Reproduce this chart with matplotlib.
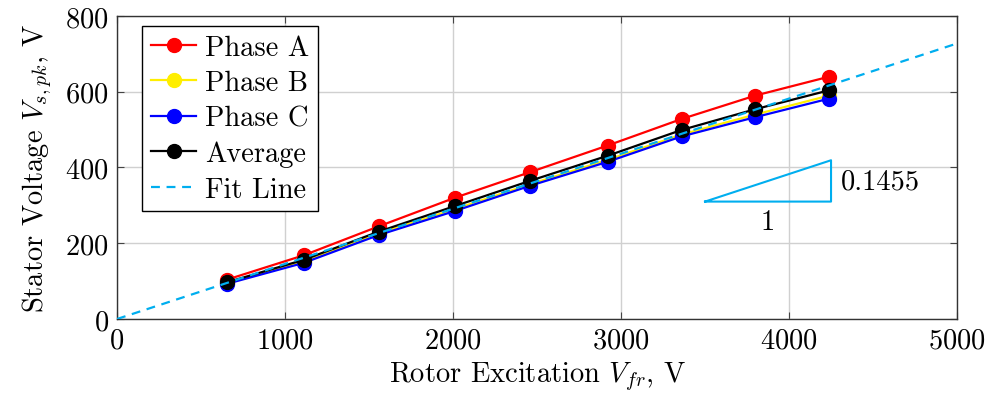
import matplotlib
matplotlib.use("Agg")
import matplotlib.pyplot as plt
import numpy as np

plt.rcParams["font.family"] = "serif"
plt.rcParams["font.serif"] = ["cmr10"]
plt.rcParams["mathtext.fontset"] = "cm"
plt.rcParams["axes.formatter.use_mathtext"] = True

# Rotor excitation voltage and measured stator peak voltages
v_rotor = [655, 1110, 1560, 2010, 2460, 2920, 3360, 3800, 4240]
phase_a = [104, 168, 245, 320, 388, 458, 528, 590, 640]
phase_b = [95, 152, 226, 290, 356, 420, 487, 540, 590]
phase_c = [93, 148, 222, 285, 352, 415, 482, 533, 582]
average = [97, 156, 231, 298, 365, 431, 499, 554, 604]

fit_slope = 0.1455
fit_x = [0, 5000]

# Slope triangle corners
tri_x0, tri_x1 = 3500, 4250
tri_y0 = 310

FS = 20.5

fig = plt.figure(figsize=(9.9, 4.02), dpi=100)
ax = fig.add_axes([0.1182, 0.204, 0.8485, 0.7537])

ms = 10
lw = 1.6
ax.plot(v_rotor, phase_a, "-o", color="red", lw=lw, ms=ms, label="Phase A", zorder=3)
ax.plot(v_rotor, phase_b, "-o", color="#ffee00", lw=lw, ms=ms, label="Phase B", zorder=3)
ax.plot(v_rotor, phase_c, "-o", color="blue", lw=lw, ms=ms, label="Phase C", zorder=3)
ax.plot(v_rotor, average, "-o", color="black", lw=lw, ms=ms, label="Average", zorder=4)
ax.plot(fit_x, [fit_slope * x for x in fit_x], "--", color="#00aeef", lw=lw,
        dashes=(4, 3), label="Fit Line", zorder=5)

tri_y1 = tri_y0 + fit_slope * (tri_x1 - tri_x0)
ax.plot([tri_x0, tri_x1, tri_x1, tri_x0], [tri_y0, tri_y0, tri_y1, tri_y0],
        color="#00aeef", lw=1.5, zorder=3)
ax.text(tri_x1 + 60, (tri_y0 + tri_y1) / 2, f"{fit_slope:.4f}", fontsize=FS,
        ha="left", va="center")
ax.text((tri_x0 + tri_x1) / 2, tri_y0 - 20, "1", fontsize=FS, ha="center", va="top")

ax.set_xlim(0, 5000)
ax.set_ylim(0, 800)
ax.set_xticks([0, 1000, 2000, 3000, 4000, 5000])
ax.set_yticks([0, 200, 400, 600, 800])
ax.grid(True, color="#d0d0d0", lw=1.0)
ax.set_axisbelow(True)
ax.tick_params(direction="in", top=True, right=True, labelsize=FS, length=5,
               color="#444444", width=0.8, pad=6)
for s in ax.spines.values():
    s.set_color("#333333")
    s.set_linewidth(1.0)

ax.set_xlabel(r"Rotor Excitation $V_{fr}$, V", fontsize=FS, labelpad=4)
ax.set_ylabel(r"Stator Voltage $V_{s,pk}$, V", fontsize=FS, labelpad=8)

leg = ax.legend(loc="upper left", bbox_to_anchor=(0.03, 0.967), borderaxespad=0,
                fontsize=FS, fancybox=False, edgecolor="black",
                framealpha=1, handlelength=1.6, labelspacing=0.32,
                handletextpad=0.3, borderpad=0.3)
leg.get_frame().set_linewidth(1.0)

fig.savefig("out.png", dpi=100)
